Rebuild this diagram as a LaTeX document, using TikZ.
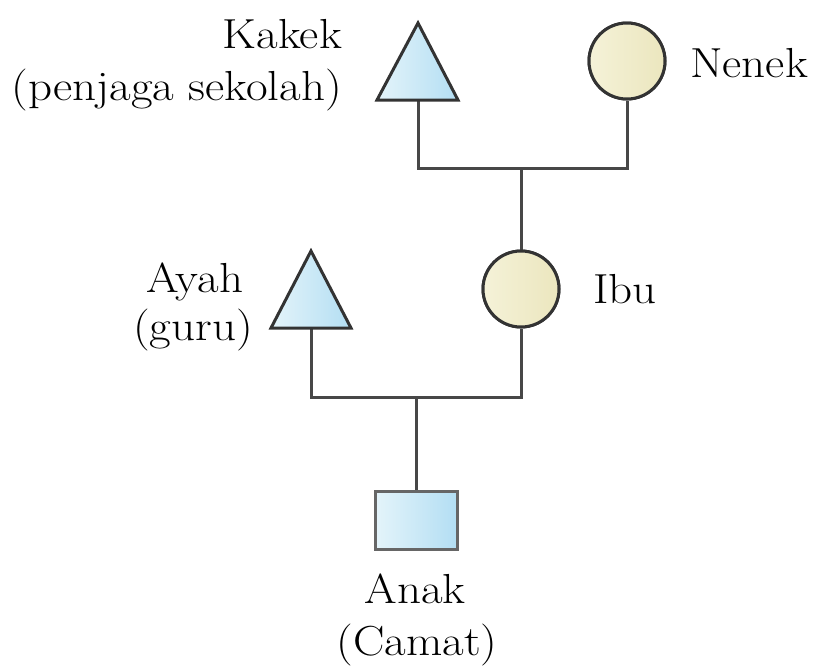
\documentclass[tikz,border=0pt]{standalone}
\usepackage{graphicx}
\newcommand{\wtxt}[1]{\scalebox{1.12}[1]{#1}}
\definecolor{lineC}{HTML}{474747}
\definecolor{edgeC}{HTML}{333333}
\definecolor{blueL}{HTML}{E4F4FA}
\definecolor{blueR}{HTML}{B3DEF3}
\definecolor{yelL}{HTML}{F5F2D8}
\definecolor{yelR}{HTML}{EBE6BE}
\begin{document}
\begin{tikzpicture}[x=1pt,y=-1pt,
  conn/.style={draw=lineC,line width=3pt},
  male/.style={draw=edgeC,line width=3pt,line join=miter,left color=blueL,right color=blueR},
  female/.style={circle,draw=edgeC,line width=3pt,minimum size=76pt,inner sep=0pt,left color=yelL,right color=yelR},
  child/.style={rectangle,draw=gray!80!black,line width=3pt,minimum width=82pt,minimum height=58pt,inner sep=0pt,left color=blueL,right color=blueR},
  lbl/.style={inner sep=0pt,font=\fontsize{42}{50}\selectfont,text=black}]
\useasboundingbox (0,0) rectangle (817,670);

\coordinate (kakek) at (418,100);
\coordinate (ayah) at (311,328);
\node[female] (nenek) at (627,61) {};
\node[female] (ibu) at (521,289) {};
\node[child] (anak) at (416,520) {};
\coordinate (m1) at (521,168);
\coordinate (m2) at (416,397);

\draw[conn] (kakek) |- (m1) -| (nenek.south);
\draw[conn] (m1) -- (ibu.north);
\draw[conn] (ayah) |- (m2) -| (ibu.south);
\draw[conn] (m2) -- (anak.north);

\node[female] at (nenek) {};
\node[female] at (ibu) {};
\node[child] at (anak) {};
\path[male] (418,23) -- (458,100) -- (377,100) -- cycle;
\path[male] (311,251) -- (351,328) -- (271,328) -- cycle;

\node[lbl,anchor=base east] (tk1) at (342,48) {\wtxt{Kakek}};
\node[lbl,anchor=base east] (tk2) at (342,100) {\wtxt{(penjaga sekolah)}};
\node[lbl,anchor=base west] (tn) at (690,77) {\wtxt{Nenek}};
\node[lbl,anchor=base] (ta1) at (195,292) {\wtxt{Ayah}};
\node[lbl,anchor=base] (ta2) at (193,340) {\wtxt{(guru)}};
\node[lbl,anchor=base west] (ti) at (593,303) {\wtxt{Ibu}};
\node[lbl,anchor=base] (tc1) at (415,603) {\wtxt{Anak}};
\node[lbl,anchor=base] (tc2) at (417,655) {\wtxt{(Camat)}};
\end{tikzpicture}
\end{document}
